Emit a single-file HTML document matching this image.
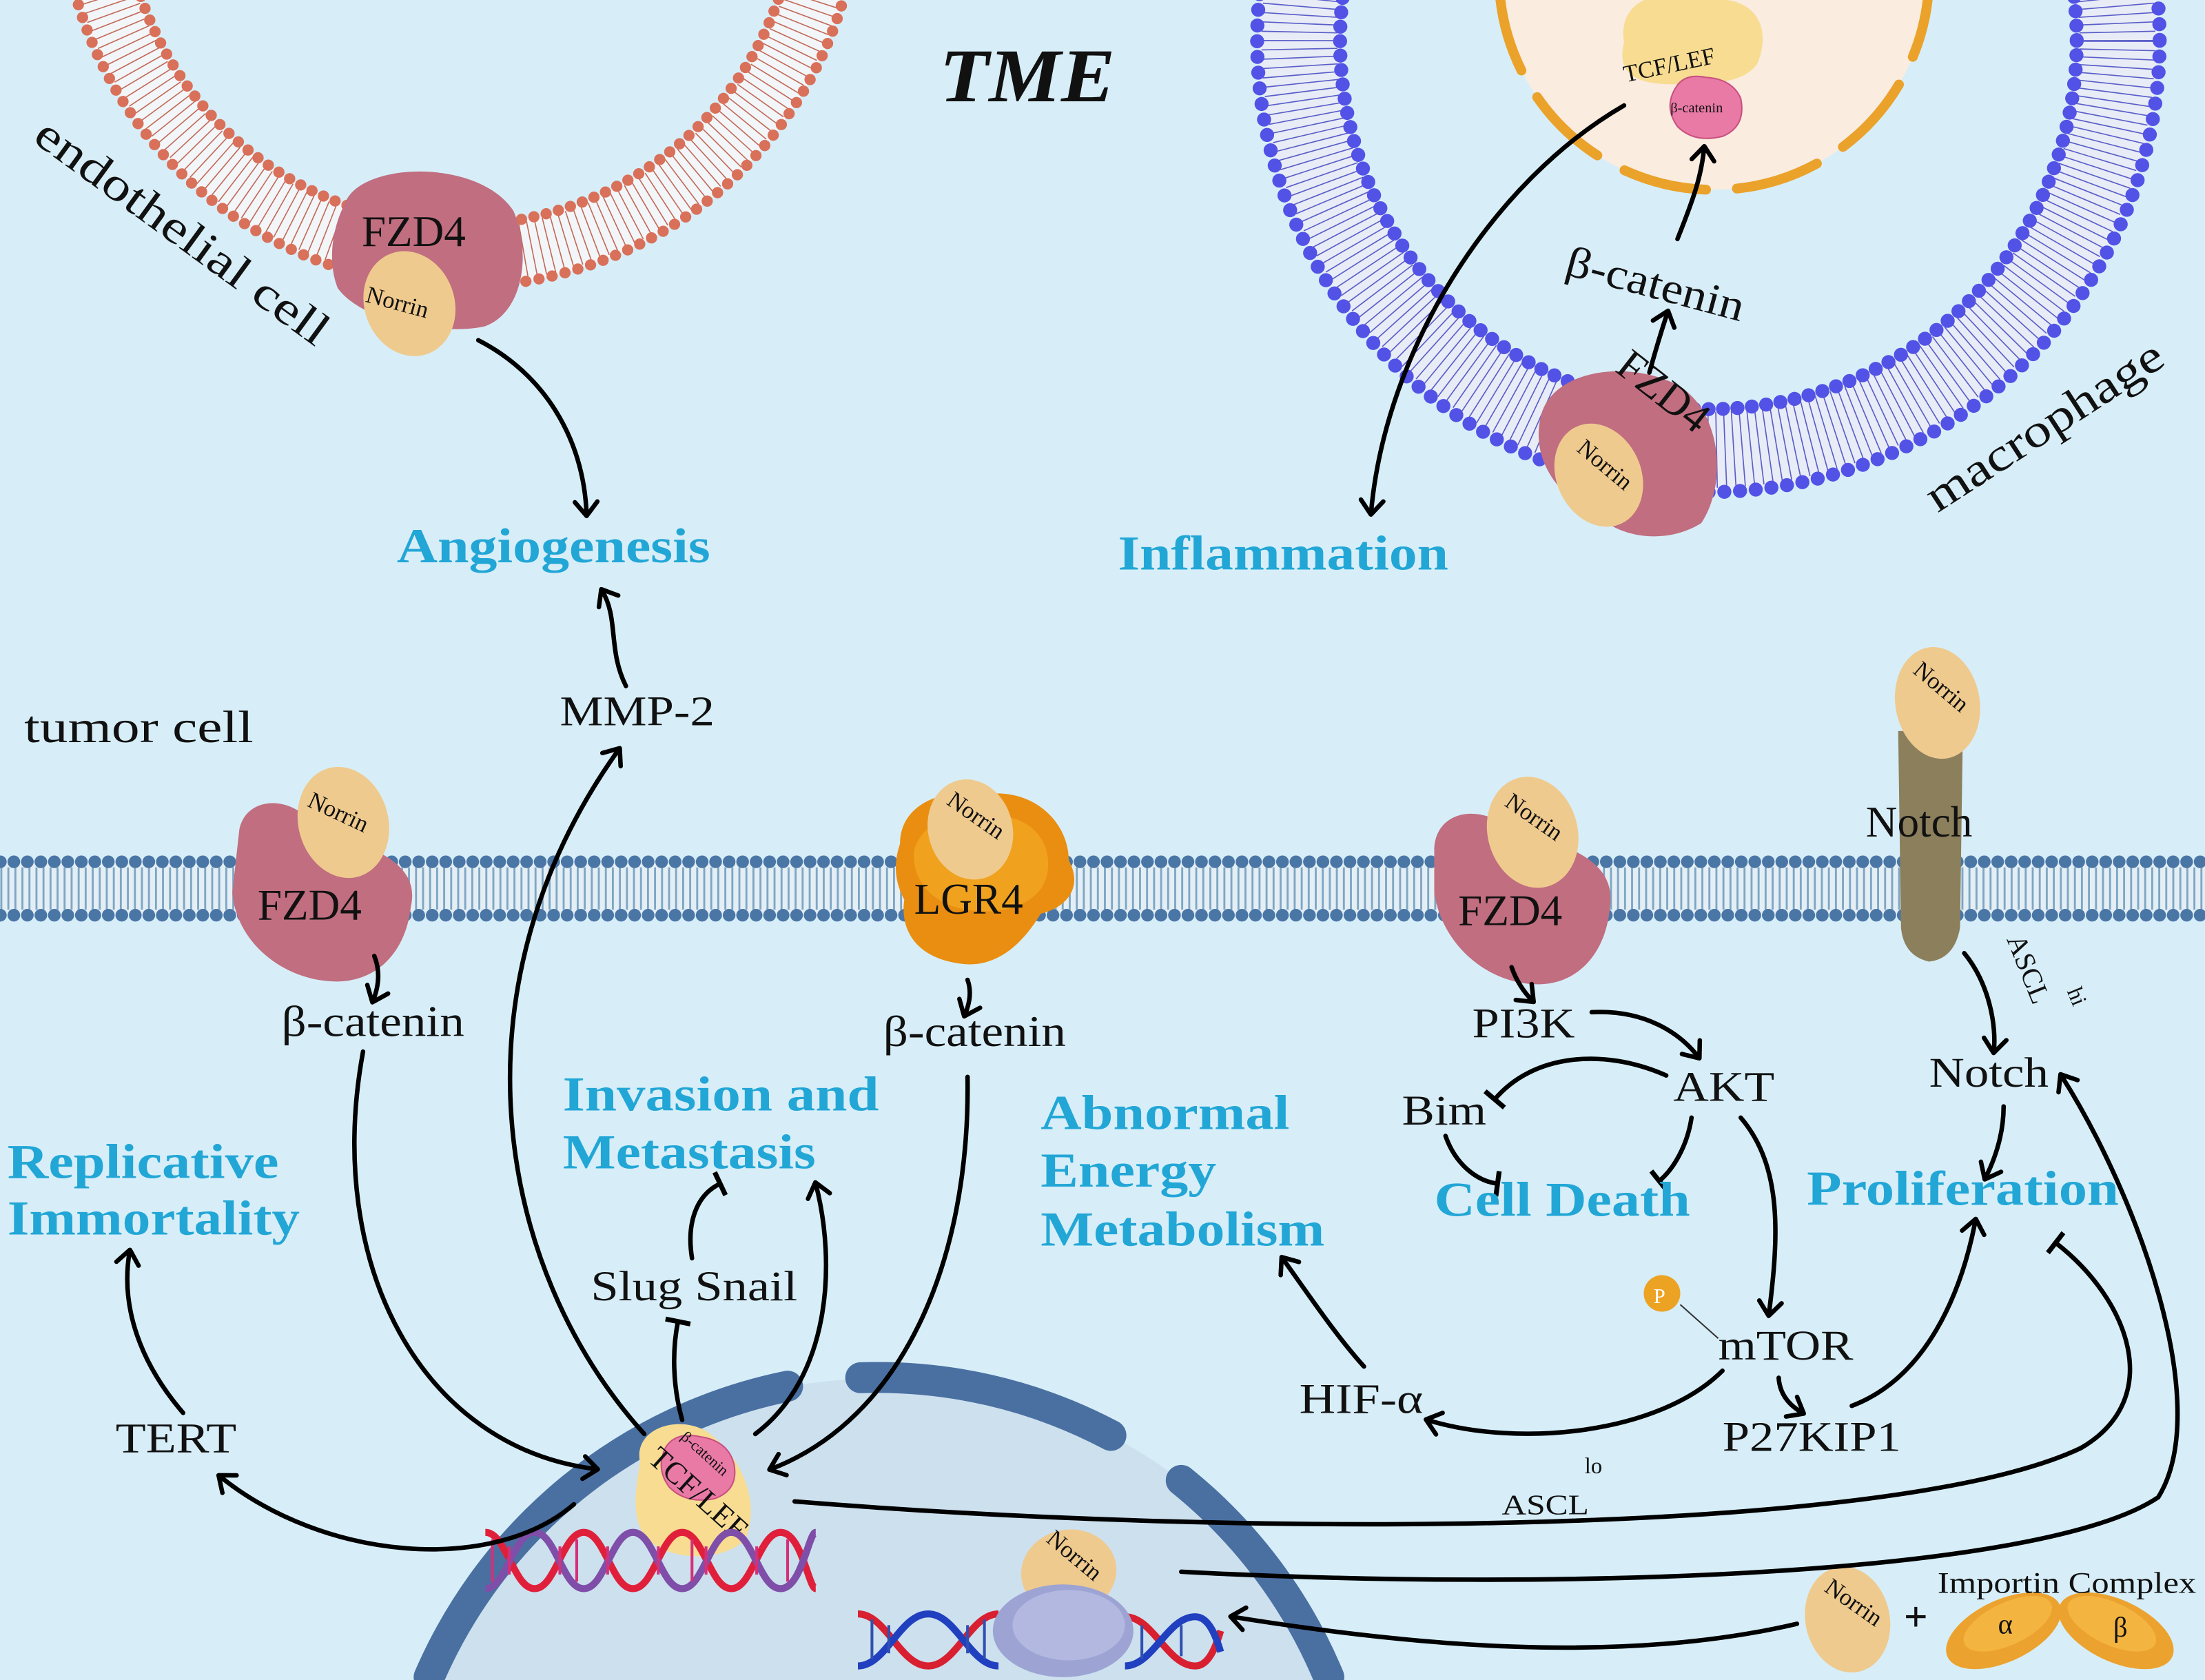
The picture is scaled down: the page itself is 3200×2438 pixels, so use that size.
<!DOCTYPE html>
<html><head><meta charset="utf-8">
<style>
html,body{margin:0;padding:0;background:#d7eef8;width:3200px;height:2438px;overflow:hidden;}
svg{display:block;overflow:hidden;}
text{font-family:"Liberation Serif",serif;fill:#111;}
.b{font-weight:bold;fill:#22a6d6;font-size:35px;}
.n{font-size:31px;}
.s{font-size:17px;}
</style></head><body>
<svg width="3200" height="2438" viewBox="0 0 1568 1195" xmlns="http://www.w3.org/2000/svg">
<defs>
<marker id="a" markerUnits="userSpaceOnUse" markerWidth="24" markerHeight="24" refX="12" refY="12" orient="auto">
<path d="M3,4 L13,12 L3,20" fill="none" stroke="#000" stroke-width="3.2" stroke-linecap="round" stroke-linejoin="round"/>
</marker>
<marker id="t" markerUnits="userSpaceOnUse" markerWidth="24" markerHeight="24" refX="12" refY="12" orient="auto">
<path d="M12,3 L12,21" stroke="#000" stroke-width="3.5"/>
</marker>
</defs>
<rect width="1568" height="1195" fill="#d7eef8"/>

<!-- endothelial cell membrane -->
<circle cx="327" cy="-80" r="262" fill="none" stroke="#f3f6f8" stroke-width="44"/>
<circle cx="327" cy="-80" r="262" fill="none" stroke="#c26a5a" stroke-width="40" stroke-dasharray="0.8 5.4"/>
<circle cx="327" cy="-80" r="284" fill="none" stroke="#d9705a" stroke-width="8" stroke-dasharray="0 9.5" stroke-linecap="round"/>
<circle cx="327" cy="-80" r="240" fill="none" stroke="#d9705a" stroke-width="8" stroke-dasharray="0 9" stroke-linecap="round"/>

<!-- macrophage membrane -->
<circle cx="1215" cy="29" r="291" fill="none" stroke="#e8ecf6" stroke-width="58"/>
<circle cx="1215" cy="29" r="291" fill="none" stroke="#5a5ec8" stroke-width="54" pathLength="1800" stroke-dasharray="0.8 5.2"/>
<circle cx="1215" cy="29" r="321" fill="none" stroke="#5252e6" stroke-width="10" pathLength="2000" stroke-dasharray="0 11.1111" stroke-linecap="round"/>
<circle cx="1215" cy="29" r="262" fill="none" stroke="#5252e6" stroke-width="10" pathLength="1600" stroke-dasharray="0 10" stroke-linecap="round"/>
<!-- macrophage nucleus -->
<circle cx="1219" cy="-18" r="153" fill="#fbece0"/>
<circle cx="1219" cy="-18" r="153" fill="none" stroke="#eaa22a" stroke-width="7" stroke-dasharray="60 22" stroke-linecap="round"/>
<path d="M1155,30 C1150,0 1180,-10 1210,0 C1250,-5 1260,20 1250,45 C1240,60 1215,60 1190,60 C1160,60 1150,50 1155,30Z" fill="#f7dc92"/>
<text x="1153" y="50" class="s" font-size="19" transform="rotate(-12 1195 40)">TCF/LEF</text>
<path d="M1192,62 Q1198,52 1213,55 Q1232,56 1238,70 Q1242,90 1225,97 Q1205,102 1193,90 Q1183,76 1192,62Z" fill="#e97aa5" stroke="#c85080" stroke-width="1"/>
<text x="1188" y="80" font-size="10">β-catenin</text>

<!-- tumor cell membrane -->
<rect x="0" y="613" width="1568" height="38" fill="#e3eef5"/>
<line x1="0" y1="632" x2="1568" y2="632" stroke="#7ea6c4" stroke-width="30" stroke-dasharray="1.4 3.6"/>
<line x1="0" y1="613" x2="1568" y2="613" stroke="#4a76a6" stroke-width="9" stroke-dasharray="0 9.6" stroke-linecap="round"/>
<line x1="0" y1="651" x2="1568" y2="651" stroke="#4a76a6" stroke-width="9" stroke-dasharray="0 9.6" stroke-linecap="round"/>

<!-- tumor nucleus -->
<path d="M299,1195 A355,355 0 0 1 951,1195 Z" fill="#cde0ee"/>
<g fill="none" stroke="#4a70a2" stroke-width="22" stroke-linecap="round">
<path d="M305,1193 A355,355 0 0 1 560,986"/>
<path d="M612,980 A355,355 0 0 1 790,1021"/>
<path d="M840,1053 A355,355 0 0 1 945,1193"/>
</g>

<!-- endothelial FZD4 + Norrin -->
<path d="M245,145 C255,115 340,112 365,150 C378,180 372,222 345,232 C320,238 260,232 240,205 C232,185 237,160 245,145Z" fill="#c06e80"/>
<ellipse cx="291" cy="216" rx="32" ry="38" transform="rotate(-20 291 216)" fill="#efca8e"/>
<text x="257" y="175" class="n" font-size="29">FZD4</text>
<text x="260" y="222" class="s" transform="rotate(15 288 215)">Norrin</text>

<!-- macrophage FZD4 + Norrin -->
<path d="M1095,300 C1100,262 1160,255 1195,275 C1225,295 1228,345 1210,372 C1190,385 1160,385 1140,370 C1110,355 1090,330 1095,300Z" fill="#c06e80"/>
<ellipse cx="1137" cy="338" rx="30" ry="38" transform="rotate(-25 1137 338)" fill="#efca8e"/>
<text x="1130" y="285" class="n" font-size="29" transform="rotate(38 1170 300)">FZD4</text>
<text x="1113" y="335" class="s" transform="rotate(40 1137 338)">Norrin</text>

<!-- tumor FZD4 left -->
<path d="M170,590 C175,565 210,565 225,590 C255,600 300,610 292,645 C288,680 265,700 235,698 C200,696 168,670 165,635Z" fill="#c06e80"/>
<ellipse cx="244" cy="585" rx="32" ry="40" transform="rotate(-15 244 585)" fill="#efca8e"/>
<text x="183" y="654" class="n" font-size="30">FZD4</text>
<text x="215" y="585" class="s" transform="rotate(25 243 585)">Norrin</text>

<!-- LGR4 -->
<path d="M640,600 C640,575 665,560 700,565 C735,560 760,585 760,612 C770,630 760,645 740,650 C725,675 705,690 680,685 C650,680 640,660 643,640 C635,625 636,612 640,600Z" fill="#e98e10"/>
<path d="M650,605 C655,585 680,575 705,580 C735,580 748,600 745,620 C742,640 720,650 695,648 C665,646 648,628 650,605Z" fill="#f0a21e"/>
<ellipse cx="690" cy="590" rx="30" ry="36" transform="rotate(-15 690 590)" fill="#efca8e"/>
<text x="650" y="650" class="n" font-size="30">LGR4</text>
<text x="665" y="585" class="s" transform="rotate(35 690 590)">Norrin</text>

<!-- tumor FZD4 right -->
<path d="M1020,605 C1020,578 1050,570 1075,590 C1110,600 1150,610 1145,645 C1142,680 1120,702 1090,700 C1055,698 1025,670 1020,635Z" fill="#c06e80"/>
<ellipse cx="1090" cy="592" rx="32" ry="40" transform="rotate(-15 1090 592)" fill="#efca8e"/>
<text x="1037" y="658" class="n" font-size="30">FZD4</text>
<text x="1062" y="588" class="s" transform="rotate(35 1090 592)">Norrin</text>

<!-- Notch -->
<path d="M1350,520 L1396,520 L1394,660 Q1390,682 1372,684 Q1354,680 1352,660Z" fill="#8b7f5c"/>
<ellipse cx="1378" cy="500" rx="30" ry="40" transform="rotate(-10 1378 500)" fill="#efca8e"/>
<text x="1350" y="495" class="s" transform="rotate(40 1378 500)">Norrin</text>
<text x="1327" y="595" class="n" font-size="31">Notch</text>

<!-- nucleus TCF/LEF complex -->
<path d="M455,1040 C450,1015 485,1005 505,1020 C530,1040 540,1070 530,1095 C515,1110 480,1112 460,1095 C448,1080 452,1060 455,1040Z" fill="#f7dc92"/>
<path d="M473,1030 Q480,1018 498,1022 Q518,1025 522,1042 Q525,1060 508,1066 Q488,1070 476,1058 Q466,1045 473,1030Z" fill="#e97aa5" stroke="#c85080" stroke-width="1"/>
<text x="442" y="1065" font-size="22" transform="rotate(42 485 1075)">TCF/LEF</text>
<text x="475" y="1035" font-size="11" transform="rotate(42 495 1040)">β-catenin</text>

<!-- DNA 1 -->
<g fill="none" stroke-width="5">
<path d="M345,1090 C360,1090 365,1130 380,1130 C395,1130 400,1090 415,1090 C430,1090 435,1130 450,1130 C465,1130 470,1090 485,1090 C500,1090 505,1130 520,1130 C535,1130 540,1090 555,1090 C570,1090 575,1130 580,1130" stroke="#e0203a"/>
<path d="M345,1130 C360,1130 365,1090 380,1090 C395,1090 400,1130 415,1130 C430,1130 435,1090 450,1090 C465,1090 470,1130 485,1130 C500,1130 505,1090 520,1090 C535,1090 540,1130 555,1130 C570,1130 575,1090 580,1090" stroke="#7f4ea8"/>
<path d="M350,1095 V1125 M362,1100 V1120 M398,1100 V1120 M410,1095 V1125 M432,1100 V1120 M468,1100 V1120 M492,1095 V1125 M502,1100 V1120 M538,1100 V1120 M560,1095 V1125" stroke="#d4307a" stroke-width="2"/>
</g>
<!-- DNA 2 -->
<g fill="none" stroke-width="5">
<path d="M610,1148 C630,1148 640,1185 660,1185 C680,1185 690,1148 710,1148 M800,1150 C820,1150 830,1185 850,1185 C860,1185 865,1170 868,1160" stroke="#d82030"/>
<path d="M610,1185 C630,1185 640,1148 660,1148 C680,1148 690,1185 710,1185 M800,1185 C820,1185 830,1150 850,1150 C860,1150 865,1165 868,1175" stroke="#2040c0"/>
<path d="M620,1152 V1180 M632,1156 V1176 M688,1156 V1176 M700,1152 V1180 M812,1156 V1180 M840,1156 V1178" stroke="#3050b0" stroke-width="2"/>
</g>
<ellipse cx="760" cy="1118" rx="34" ry="30" transform="rotate(-10 760 1118)" fill="#efca8e"/>
<text x="733" y="1112" class="s" transform="rotate(40 760 1118)">Norrin</text>
<ellipse cx="756" cy="1160" rx="50" ry="33" fill="#9da4d4"/>
<ellipse cx="760" cy="1156" rx="40" ry="25" fill="#b3b8e0"/>

<!-- Norrin + Importin -->
<ellipse cx="1314" cy="1152" rx="30" ry="38" transform="rotate(-12 1314 1152)" fill="#efca8e"/>
<text x="1288" y="1145" class="s" font-size="18" transform="rotate(35 1314 1152)">Norrin</text>
<text x="1354" y="1160" font-size="30" font-weight="bold">+</text>
<ellipse cx="1425" cy="1160" rx="44" ry="22" transform="rotate(-25 1425 1160)" fill="#eca22e"/>
<ellipse cx="1505" cy="1160" rx="44" ry="22" transform="rotate(25 1505 1160)" fill="#eca22e"/>
<ellipse cx="1428" cy="1155" rx="34" ry="15" transform="rotate(-25 1428 1155)" fill="#f4b540"/>
<ellipse cx="1502" cy="1155" rx="34" ry="15" transform="rotate(25 1502 1155)" fill="#f4b540"/>
<text x="1421" y="1162" font-size="20">α</text>
<text x="1503" y="1164" font-size="20">β</text>
<text x="1378" y="1133" font-size="21" textLength="184" lengthAdjust="spacingAndGlyphs">Importin Complex</text>

<!-- P -->
<circle cx="1182" cy="920" r="13" fill="#eca323"/>
<text x="1176" y="927" font-size="15" style="fill:#fff">P</text>
<line x1="1195" y1="928" x2="1222" y2="952" stroke="#333" stroke-width="1"/>

<!-- Arrows -->
<g fill="none" stroke="#000" stroke-width="3.2" stroke-linecap="round">
<path d="M340,242 C385,265 415,310 417,366" marker-end="url(#a)"/>
<path d="M445,488 C432,462 440,440 428,420" marker-end="url(#a)"/>
<path d="M458,1020 C350,900 320,700 440,533" marker-end="url(#a)"/>
<path d="M266,680 Q272,695 265,712" marker-end="url(#a)"/>
<path d="M258,748 C230,900 300,1030 424,1045" marker-end="url(#a)"/>
<path d="M688,697 Q692,708 686,722" marker-end="url(#a)"/>
<path d="M688,766 C690,900 640,1010 548,1045" marker-end="url(#a)"/>
<path d="M408,1070 C350,1120 230,1110 156,1050" marker-end="url(#a)"/>
<path d="M130,1005 C100,970 85,930 92,890" marker-end="url(#a)"/>
<path d="M485,1010 C478,985 478,960 482,940" marker-end="url(#t)"/>
<path d="M492,895 C488,870 495,850 512,842" marker-end="url(#t)"/>
<path d="M537,1020 C590,980 595,900 580,842" marker-end="url(#a)"/>
<path d="M1155,75 C1060,130 985,250 975,365" marker-end="url(#a)"/>
<path d="M1173,265 Q1180,240 1186,222" marker-end="url(#a)"/>
<path d="M1193,170 C1205,140 1210,125 1212,105" marker-end="url(#a)"/>
<path d="M1075,688 Q1080,702 1090,712" marker-end="url(#a)"/>
<path d="M1132,720 C1170,718 1195,735 1208,752" marker-end="url(#a)"/>
<path d="M1185,765 C1140,745 1090,750 1063,782" marker-end="url(#t)"/>
<path d="M1028,808 C1035,828 1050,840 1065,842" marker-end="url(#t)"/>
<path d="M1203,795 C1200,815 1190,832 1180,840" marker-end="url(#t)"/>
<path d="M1238,795 C1268,830 1265,880 1258,935" marker-end="url(#a)"/>
<path d="M1225,975 C1180,1020 1080,1030 1015,1010" marker-end="url(#a)"/>
<path d="M970,972 C950,950 930,920 912,895" marker-end="url(#a)"/>
<path d="M1265,980 Q1266,996 1282,1005" marker-end="url(#a)"/>
<path d="M1317,1000 C1370,980 1395,920 1405,868" marker-end="url(#a)"/>
<path d="M1397,678 C1415,700 1420,730 1418,748" marker-end="url(#a)"/>
<path d="M1425,787 C1425,805 1420,822 1412,838" marker-end="url(#a)"/>
<path d="M565,1068 C900,1095 1350,1092 1480,1030 C1540,995 1515,925 1462,884" marker-end="url(#t)"/>
<path d="M840,1118 C1100,1132 1450,1122 1535,1065 C1575,1000 1520,850 1466,765" marker-end="url(#a)"/>
<path d="M1278,1155 C1150,1185 1000,1170 876,1150" marker-end="url(#a)"/>
</g>

<!-- Labels -->
<text x="668" y="72" font-size="54" font-weight="bold" font-style="italic" textLength="125" lengthAdjust="spacingAndGlyphs">TME</text>
<text x="22" y="100" font-size="33" transform="rotate(36 22 100)" textLength="250" lengthAdjust="spacingAndGlyphs">endothelial cell</text>
<text x="1378" y="365" font-size="33" transform="rotate(-33 1378 365)" textLength="195" lengthAdjust="spacingAndGlyphs">macrophage</text>
<text x="282" y="400" class="b" textLength="223" lengthAdjust="spacingAndGlyphs">Angiogenesis</text>
<text x="795" y="405" class="b" textLength="235" lengthAdjust="spacingAndGlyphs">Inflammation</text>
<text x="17" y="528" font-size="32" textLength="163" lengthAdjust="spacingAndGlyphs">tumor cell</text>
<text x="398" y="516" font-size="30" textLength="110" lengthAdjust="spacingAndGlyphs">MMP-2</text>
<text x="1112" y="195" font-size="31" transform="rotate(15 1112 195)" textLength="130" lengthAdjust="spacingAndGlyphs">β-catenin</text>
<text x="200" y="737" font-size="31" textLength="130" lengthAdjust="spacingAndGlyphs">β-catenin</text>
<text x="628" y="744" font-size="31" textLength="130" lengthAdjust="spacingAndGlyphs">β-catenin</text>
<text x="400" y="790" class="b" textLength="225" lengthAdjust="spacingAndGlyphs">Invasion and</text>
<text x="400" y="831" class="b" textLength="180" lengthAdjust="spacingAndGlyphs">Metastasis</text>
<text x="5" y="838" class="b" textLength="193" lengthAdjust="spacingAndGlyphs">Replicative</text>
<text x="5" y="878" class="b" textLength="208" lengthAdjust="spacingAndGlyphs">Immortality</text>
<text x="740" y="803" class="b" textLength="177" lengthAdjust="spacingAndGlyphs">Abnormal</text>
<text x="740" y="844" class="b" textLength="125" lengthAdjust="spacingAndGlyphs">Energy</text>
<text x="740" y="886" class="b" textLength="202" lengthAdjust="spacingAndGlyphs">Metabolism</text>
<text x="1047" y="738" font-size="30" textLength="73" lengthAdjust="spacingAndGlyphs">PI3K</text>
<text x="1190" y="783" font-size="30" textLength="72" lengthAdjust="spacingAndGlyphs">AKT</text>
<text x="997" y="800" font-size="30" textLength="60" lengthAdjust="spacingAndGlyphs">Bim</text>
<text x="1020" y="865" class="b" textLength="182" lengthAdjust="spacingAndGlyphs">Cell Death</text>
<text x="1372" y="773" font-size="30" textLength="85" lengthAdjust="spacingAndGlyphs">Notch</text>
<text x="1285" y="857" class="b" textLength="222" lengthAdjust="spacingAndGlyphs">Proliferation</text>
<text x="420" y="925" font-size="30" textLength="147" lengthAdjust="spacingAndGlyphs">Slug Snail</text>
<text x="82" y="1033" font-size="30" textLength="86" lengthAdjust="spacingAndGlyphs">TERT</text>
<text x="924" y="1005" font-size="30" textLength="88" lengthAdjust="spacingAndGlyphs">HIF-α</text>
<text x="1222" y="967" font-size="30" textLength="96" lengthAdjust="spacingAndGlyphs">mTOR</text>
<text x="1225" y="1032" font-size="30" textLength="127" lengthAdjust="spacingAndGlyphs">P27KIP1</text>
<text x="1068" y="1077" font-size="20" textLength="62" lengthAdjust="spacingAndGlyphs">ASCL</text>
<text x="1127" y="1048" font-size="16">lo</text>
<text x="1427" y="668" font-size="20" transform="rotate(68 1427 668)">ASCL</text>
<text x="1470" y="705" font-size="16" transform="rotate(68 1470 705)">hi</text>
</svg>
</body></html>
